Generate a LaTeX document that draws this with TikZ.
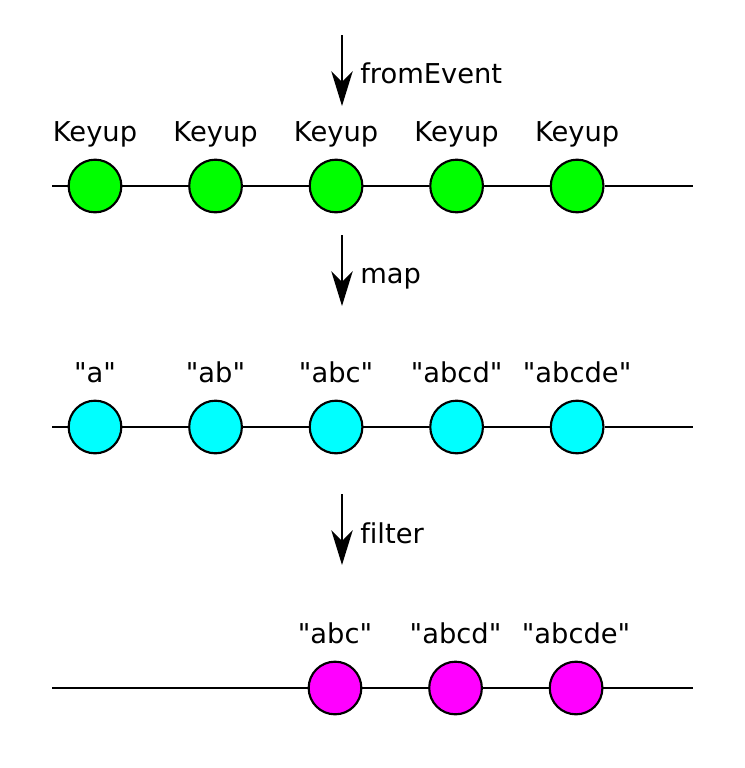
\documentclass[tikz,border=0pt]{standalone}
\usepackage{fontspec}
\setmainfont[Ligatures={TeXOff,CommonOff}]{DejaVu Sans}
\usetikzlibrary{arrows.meta}
\definecolor{keygreen}{RGB}{0,255,0}
\definecolor{valcyan}{RGB}{0,255,255}
\definecolor{valmagenta}{RGB}{255,0,255}
\tikzstyle{event} = [circle, draw=black, line width=1.6pt, minimum size=39.5pt, inner sep=0pt]
\tikzstyle{value} = [text height=15pt, text depth=0pt, inner sep=0pt, font=\fontsize{20.5}{24}\selectfont]
\tikzstyle{operator} = [anchor=base west, inner sep=0pt, font=\fontsize{20.5}{24}\selectfont]
\tikzstyle{timeline} = [line width=1.6pt]
\tikzstyle{arrow} = [line width=1.6pt, -{Stealth[length=26pt,width=16pt,inset=8pt]}]

\begin{document}
\begin{tikzpicture}[x=0.75pt, y=-0.75pt, node distance=90.4pt]
\useasboundingbox (0,0) rectangle (744,768);

% fromEvent
\coordinate (fromtop) at (342,35);
\coordinate (frombot) at (342,106);
\draw [arrow] (fromtop) -- (frombot);
\node (fromlabel) [operator] at (360,83) {fromEvent};

% keyup events
\node (k1) [event, fill=keygreen] at (95,186) {};
\node (k2) [event, fill=keygreen, right of=k1] {};
\node (k3) [event, fill=keygreen, right of=k2] {};
\node (k4) [event, fill=keygreen, right of=k3] {};
\node (k5) [event, fill=keygreen, right of=k4] {};
\coordinate (kstart) at (52,186);
\coordinate (kend) at (693,186);
\draw [timeline] (kstart) -- (k1) -- (k2) -- (k3) -- (k4) -- (k5) -- (kend);

\node (lk1) [value, node distance=41pt, above of=k1] {Keyup};
\node (lk2) [value, node distance=41pt, above of=k2] {Keyup};
\node (lk3) [value, node distance=41pt, above of=k3] {Keyup};
\node (lk4) [value, node distance=41pt, above of=k4] {Keyup};
\node (lk5) [value, node distance=41pt, above of=k5] {Keyup};

% map
\coordinate (maptop) at (342,235);
\coordinate (mapbot) at (342,306);
\draw [arrow] (maptop) -- (mapbot);
\node (maplabel) [operator] at (360,283) {map};

% mapped values
\node (m1) [event, fill=valcyan] at (95,427) {};
\node (m2) [event, fill=valcyan, right of=m1] {};
\node (m3) [event, fill=valcyan, right of=m2] {};
\node (m4) [event, fill=valcyan, right of=m3] {};
\node (m5) [event, fill=valcyan, right of=m4] {};
\coordinate (mstart) at (52,427);
\coordinate (mend) at (693,427);
\draw [timeline] (mstart) -- (m1) -- (m2) -- (m3) -- (m4) -- (m5) -- (mend);

\node (lm1) [value, node distance=41pt, above of=m1] {"a"};
\node (lm2) [value, node distance=41pt, above of=m2] {"ab"};
\node (lm3) [value, node distance=41pt, above of=m3] {"abc"};
\node (lm4) [value, node distance=41pt, above of=m4] {"abcd"};
\node (lm5) [value, node distance=41pt, above of=m5] {"abcde"};

% filter
\coordinate (filtertop) at (342,494);
\coordinate (filterbot) at (342,565);
\draw [arrow] (filtertop) -- (filterbot);
\node (filterlabel) [operator] at (360,543) {filter};

% filtered values
\node (f3) [event, fill=valmagenta] at (335,688) {};
\node (f4) [event, fill=valmagenta, right of=f3] {};
\node (f5) [event, fill=valmagenta, right of=f4] {};
\coordinate (fstart) at (52,688);
\coordinate (fend) at (693,688);
\draw [timeline] (fstart) -- (f3) -- (f4) -- (f5) -- (fend);

\node (lf3) [value, node distance=41pt, above of=f3] {"abc"};
\node (lf4) [value, node distance=41pt, above of=f4] {"abcd"};
\node (lf5) [value, node distance=41pt, above of=f5] {"abcde"};
\end{tikzpicture}
\end{document}
